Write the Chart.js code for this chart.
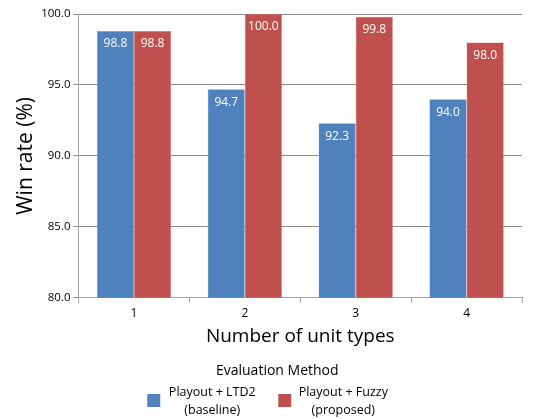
<!DOCTYPE html>
<html>
<head>
<meta charset="utf-8">
<script src="https://cdn.jsdelivr.net/npm/chart.js@4"></script>
<style>
  body { margin: 0; background: #fff; }
  #wrap { width: 547px; height: 419px; }
</style>
</head>
<body>
<div id="wrap"><canvas id="grafico" width="547" height="419"></canvas></div>
<script>
const categorias = ['1', '2', '3', '4'];
const nomesSeries = [['Playout + LTD2', '(baseline)'], ['Playout + Fuzzy', '(proposed)']];
const valoresLTD2 = [98.8, 94.7, 92.3, 94.0];
const valoresFuzzy = [98.8, 100.0, 99.8, 98.0];
const coresSeries = ['#4F81BD', '#C0504D'];
const FONTE = '"Open Sans", "Noto Sans", sans-serif';

// rótulos brancos dentro do topo das barras
const rotulosBarras = {
    id: 'rotulosBarras',
    afterDatasetsDraw(chart) {
        const ctx = chart.ctx;
        ctx.save();
        ctx.fillStyle = '#ffffff';
        ctx.font = '12px ' + FONTE;
        ctx.textAlign = 'center';
        ctx.textBaseline = 'middle';
        chart.data.datasets.forEach((ds, i) => {
            chart.getDatasetMeta(i).data.forEach((bar, j) => {
                ctx.fillText(ds.data[j].toFixed(1), bar.x, bar.y + 13);
            });
        });
        ctx.restore();
    }
};

// legenda embaixo com título e rótulos em duas linhas
const legendaCustom = {
    id: 'legendaCustom',
    afterDraw(chart) {
        const ctx = chart.ctx;
        const cx = (chart.chartArea.left + chart.chartArea.right) / 2;
        ctx.save();
        ctx.fillStyle = '#000';
        ctx.textAlign = 'center';
        ctx.textBaseline = 'middle';
        ctx.font = '14px ' + FONTE;
        ctx.fillText('Evaluation Method', cx - 23, 371);
        const desloc = [-153, -22];
        chart.data.datasets.forEach((ds, i) => {
            const x0 = cx + desloc[i];
            ctx.fillStyle = ds.backgroundColor;
            ctx.fillRect(x0, 394, 13, 13);
            ctx.fillStyle = '#000';
            ctx.font = '12.5px ' + FONTE;
            ctx.fillText(nomesSeries[i][0], x0 + 65, 392);
            ctx.fillText(nomesSeries[i][1], x0 + 65, 410);
        });
        ctx.restore();
    }
};

new Chart(document.getElementById('grafico').getContext('2d'), {
    type: 'bar',
    data: {
        labels: categorias,
        datasets: [
            { label: nomesSeries[0].join(' '), data: valoresLTD2, backgroundColor: coresSeries[0], borderColor: '#6f9bd0', borderWidth: 0.5 },
            { label: nomesSeries[1].join(' '), data: valoresFuzzy, backgroundColor: coresSeries[1], borderColor: '#d67a77', borderWidth: 0.5 }
        ]
    },
    options: {
        responsive: false,
        animation: false,
        layout: { padding: { top: 14, right: 25, bottom: 67, left: 9 } },
        categoryPercentage: 0.67,
        barPercentage: 1.0,
        plugins: {
            legend: { display: false },
            tooltip: { enabled: false }
        },
        scales: {
            x: {
                offset: true,
                grid: { offset: true, drawOnChartArea: false, drawTicks: true, tickLength: 5, color: '#a6a6a6' },
                border: { color: '#a6a6a6' },
                ticks: { color: '#000', font: { size: 12, family: FONTE }, padding: 4 },
                title: { display: true, text: 'Number of unit types', color: '#000', font: { size: 19, family: FONTE }, padding: { top: 0 } }
            },
            y: {
                min: 80,
                max: 100,
                grid: { color: '#8c8c8c', tickLength: 5, drawTicks: true },
                border: { color: '#a6a6a6' },
                ticks: { stepSize: 5, color: '#000', font: { size: 11.5, family: FONTE }, callback: v => v.toFixed(1), padding: 3 },
                title: { display: true, text: 'Win rate (%)', color: '#000', font: { size: 21, family: FONTE }, padding: { bottom: 0 } }
            }
        }
    },
    plugins: [rotulosBarras, legendaCustom]
});
</script>
</body>
</html>
